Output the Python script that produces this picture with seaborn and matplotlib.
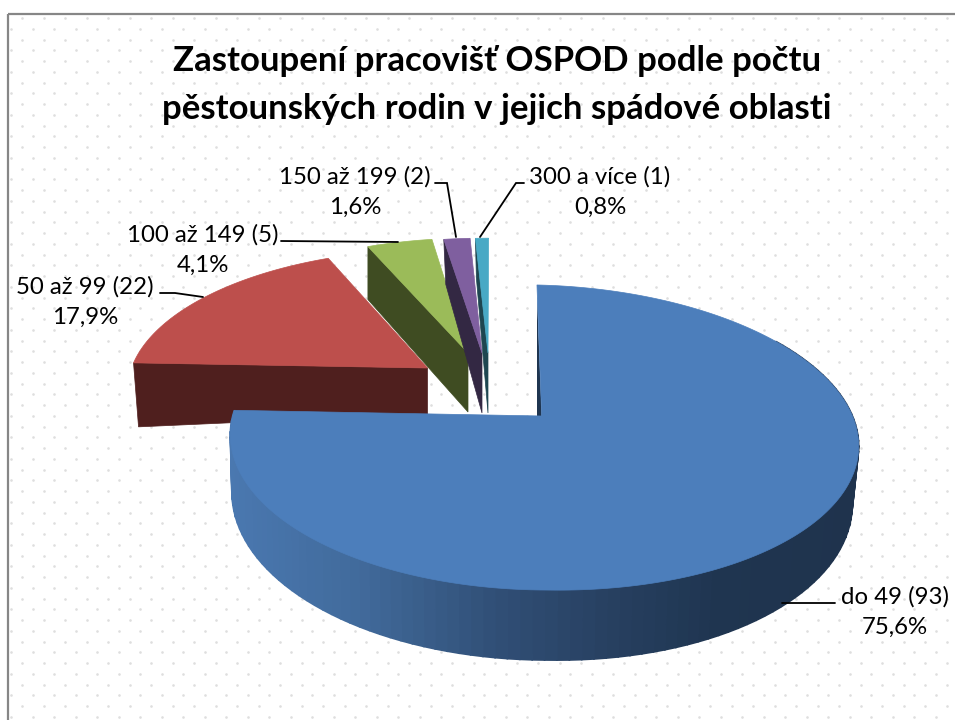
import numpy as np
import matplotlib
matplotlib.use("Agg")
import matplotlib.pyplot as plt
from matplotlib.colors import to_rgb
from matplotlib.patches import Rectangle
import seaborn as sns

# ---------- data ----------
categories = ["do 49", "50 až 99", "100 až 149", "150 až 199", "300 a více"]
counts = [93, 22, 5, 2, 1]
title = "Zastoupení pracovišť OSPOD podle počtu\npěstounských rodin v jejich spádové oblasti"

# ---------- styles ----------
top_colors = sns.color_palette(["#4C7EBB", "#BD4F4C", "#9BBB59", "#7F5F9F", "#48A9C5"])
wall_colors = ["#1F3550", "#4F1F1E", "#3F4C22", "#332843", "#1E4650"]
# apex x, apex y, radius x, radius y, lean, wall depth at apex, wall depth at rim, rim shift
geom = [
    (541.7, 416, 313, 149.5, -5.4, 0, 0, 0),
    (427.5, 368, 296, 135, 6.0, 46, 64, 5),
    (468, 353, 293, 131, 3.7, 59, 53, 0),
    (482, 353, 295, 131, 1.5, 60, 45, 2),
    (488, 353, 295, 131, 0.7, 60, 40, 1),
]
K = 0.141
LEFT_RATIO = 309 / 313

sns.set_theme(style="white")
plt.rcParams["font.family"] = ["Lato", "DejaVu Sans"]
fig = plt.figure(figsize=(9.55, 7.2), dpi=100, facecolor="white")
ax = fig.add_axes([0, 0, 1, 1])
ax.set_xlim(0, 955)
ax.set_ylim(720, 0)
ax.axis("off")

# background dot texture
dx, dy = 21.5, 10.75
xs, ys = [], []
for r, y in enumerate(np.arange(18, 720, dy)):
    start = 22 if r % 2 == 0 else 11
    for x in np.arange(start, 955, dx):
        xs.append(x)
        ys.append(y)
sns.scatterplot(x=xs, y=ys, ax=ax, color="#dedede", s=3.5, linewidth=0, legend=False, zorder=1)
ax.add_patch(Rectangle((7.5, 13.5), 1000, 1000, fill=False, ec="#868686", lw=1.6, zorder=2))

# slice angles (clockwise from the top), from the values
fractions = np.array(counts) / np.sum(counts)
edges = np.concatenate([[0], np.cumsum(fractions)]) * 2 * np.pi


def project(theta, g, tilt=0.0, left=1.0):
    ax0, ay0, B, A, lean = g[:5]
    s, c = np.sin(theta), np.cos(theta)
    d = 1 + K * c
    x = ax0 + B * np.where(s < 0, left, 1.0) * s / d + lean * c / d
    y = ay0 - A * c / d + tilt * np.where(s > 0, s, 0)
    return x, y


# back slices, drawn back to front
for i in [1, 2, 3, 4]:
    g = geom[i]
    t = np.linspace(edges[i], edges[i + 1], 60)
    x, y = project(t, g)
    da, dr, sh = g[5], g[6], g[7]
    ex, ey = x[0], y[0]
    wall = [(ex, ey), (g[0], g[1]), (g[0], g[1] + da), (ex + sh, ey + dr)]
    ax.fill(*zip(*wall), color=wall_colors[i], lw=0.5, zorder=3 + i)
    ax.fill(np.r_[g[0], x], np.r_[g[1], y], color=top_colors[i], lw=0.5, zorder=3.5 + i)

# front slice: shaded rim
g = geom[0]
TILT = 6
t = np.radians(np.linspace(55, np.degrees(edges[1]), 110))
x, y = project(t, g, TILT, LEFT_RATIO)
c = np.cos(t)
scale = np.where(x > g[0], 0.98, 0.995)
xb = g[0] + scale * (x - g[0])
yb = y + 55 + 15 * np.clip(-c, 0, 1)
anchors_x = [230, 360, 500, 620, 720, 860]
anchors_c = np.array([to_rgb(v) for v in ["#4A78B0", "#416A9B", "#304E75", "#263F5F", "#1F3550", "#1F334D"]])
for j in range(len(t) - 1):
    mx = 0.5 * (x[j] + x[j + 1])
    col = [np.interp(mx, anchors_x, anchors_c[:, k]) for k in range(3)]
    ax.fill([x[j], x[j + 1], xb[j + 1], xb[j]], [y[j], y[j + 1], yb[j + 1], yb[j]],
            color=col, lw=1.2, antialiased=True, zorder=9)
# sliver of wall along the vertical edge
ax.fill([537, 541.7, 537], [295, 416, 416], color=wall_colors[0], lw=0, zorder=9)
t = np.linspace(edges[0], edges[1], 360)
x, y = project(t, g, TILT, LEFT_RATIO)
ax.fill(np.r_[g[0], x], np.r_[g[1], y], color=top_colors[0], lw=0.5, zorder=10)

# leader lines
leaders = [
    ([782, 835], [603, 603]),
    ([203, 175, 160], [297, 293, 293]),
    ([398, 281], [242, 241]),
    ([456, 447, 435], [237, 183, 183]),
    ([480, 516, 524], [237, 183, 183]),
]
for lx, ly in leaders:
    ax.plot(lx, ly, color="black", lw=1.3, zorder=12, solid_joinstyle="miter")

# labels
label_xy = [(895, 612), (85, 302), (203, 250), (355, 192), (600, 192)]
for (lx, ly), name, n, f in zip(label_xy, categories, counts, fractions):
    pct = f"{100 * f:.1f}".replace(".", ",") + "%"
    ax.text(lx, ly, f"{name} ({n})\n{pct}", ha="center", va="center", ma="center",
            fontsize=17.3, linespacing=1.55, color="black", zorder=13)

ax.text(497, 85, title, ha="center", va="center", ma="center", fontsize=25,
        fontweight="bold", linespacing=1.6, color="black", zorder=13)

fig.savefig("out.png", dpi=100, facecolor="white")
